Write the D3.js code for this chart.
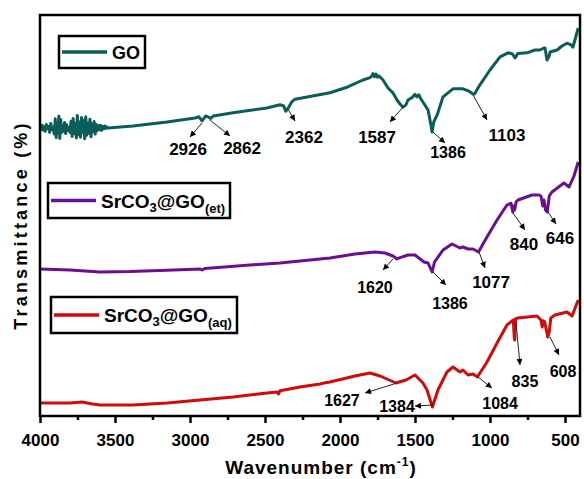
<!DOCTYPE html>
<html>
<head>
<meta charset="utf-8">
<script src="https://cdn.jsdelivr.net/npm/d3@7"></script>
<style>
body { margin: 0; background: #fff; }
text { font-family: "Liberation Sans", Arial, sans-serif; font-weight: bold; }
</style>
</head>
<body>
<script>
// x ticks (cm-1)
var waveTicks = [4000, 3500, 3000, 2500, 2000, 1500, 1000, 500];
var minorTicks = [3750, 3250, 2750, 2250, 1750, 1250, 750];

// spectra: [wavenumber, transmittance (a.u., offset)]
var goData = [
  [4000,72],[3995,72.5],[3990,71.6],[3985,72.7],[3980,71.5],[3972,72.3],[3965,71.2],[3958,72.9],[3950,71.8],
  [3943,72.4],[3935,70.9],[3928,73.1],[3920,71.6],[3912,72.2],[3905,70.5],[3898,74.3],[3892,69.6],[3886,73],
  [3880,70.8],[3874,75],[3868,69.4],[3862,74.1],[3856,70.9],[3850,72.6],[3843,71.2],[3836,73.4],[3829,70.6],
  [3822,72.8],[3815,71.4],[3808,72.1],[3800,70.9],[3793,73.7],[3786,69.9],[3779,74.4],[3772,70.6],[3765,73.1],
  [3758,69.5],[3751,75.1],[3744,70.3],[3737,73.5],[3730,69.7],[3723,74.6],[3716,70.9],[3709,73.9],[3702,69.3],
  [3695,74.8],[3688,70.2],[3681,73.2],[3674,70.7],[3667,74.2],[3660,69.8],[3653,73],[3646,71.1],[3639,73.6],
  [3632,70.5],[3625,72.9],[3618,71.3],[3611,72.6],[3604,71.6],[3597,72.7],[3590,71.4],[3583,72.4],[3576,71.8],
  [3569,72.5],[3562,71.9],[3555,72.3],[3545,72],
  [3380,72.5],[3153,73.5],[2967,74.5],[2940,74.8],[2920,73.8],[2895,75],[2880,74.8],[2862,74.4],
  [2845,75],[2713,75.8],[2487,77],[2400,77.8],[2375,77.5],[2362,76.2],[2345,77],[2320,78.6],[2300,79.2],
  [2067,80.8],[1953,82.2],[1847,84],[1800,84.6],[1790,84.9],[1780,85.6],[1770,84.8],[1760,85.5],[1750,84.7],
  [1740,85],[1713,84],[1680,82],[1647,80.8],[1620,79],[1600,78],[1580,77.2],[1560,77.8],[1547,79],[1520,79.6],
  [1500,80.4],[1487,79.8],[1475,80.3],[1460,79.2],[1447,78.5],[1413,76.5],[1395,73],[1386,71],[1375,73.5],
  [1353,75.2],[1313,79.8],[1247,81.8],[1180,81.8],[1140,81.2],[1113,80.5],[1103,80.5],[1080,82],[1067,82.8],
  [1000,86.5],[933,89.8],[880,90.8],[850,90.5],[833,89.5],[815,90.6],[753,90.8],[700,91.5],[667,91.5],
  [640,92],[633,92],[620,89],[605,90],[600,91],[553,91.5],[520,92.5],[487,93.2],[460,92.8],[447,92.2],
  [430,94.5],[412,97]
];

var etData = [
  [4000,36.75],[3800,36.5],[3600,36],[3400,36.1],[3200,36.4],[2933,36.75],[2920,36.5],[2900,36.9],
  [2600,37.75],[2400,38.25],[2267,38.75],[2067,39.5],[1900,40.5],[1767,41],[1700,40.75],[1647,40],
  [1620,39.25],[1600,39.6],[1547,40.25],[1500,40.25],[1440,38.5],[1413,38.25],[1386,36],[1370,38.5],
  [1313,41.5],[1253,43],[1200,42],[1180,42.25],[1147,41.75],[1113,41.75],[1077,41],[1020,44.75],
  [953,49],[887,52.75],[860,53.2],[848,51],[842,52.5],[836,51.5],[826,53.5],[813,54],[720,55.25],
  [673,55.25],[660,55],[648,52.5],[640,54],[630,51.5],[618,51],[605,55],[587,56],[507,58.25],
  [473,57.25],[440,60],[412,63.5]
];

var aqData = [
  [4000,3.25],[3800,3.25],[3720,3.5],[3650,3],[3600,2.75],[3380,2.75],[3153,3.25],[2933,4],[2713,4.75],
  [2487,5.75],[2420,6],[2410,5.5],[2400,6.3],[2267,7.25],[2133,8],[2100,8.3],[2067,8.5],[1900,10],
  [1800,10.75],[1733,10],[1627,8.25],[1560,9],[1500,10.25],[1447,8.25],[1420,6.5],[1384,2.25],[1347,6.5],
  [1287,11],[1247,12.25],[1200,11],[1180,11.5],[1147,10.25],[1113,10.5],[1084,9.75],[1020,13.5],
  [953,18.25],[887,22.75],[845,24],[838,19.5],[835,19],[830,24.3],[813,24.5],[687,25],[660,24],
  [652,22.25],[645,23.8],[635,23.5],[615,19.75],[605,21],[595,24.5],[567,25.25],[487,26],[453,25],
  [412,29]
];

// peak labels: [label, tailW, tailT, headW, headT, textW, textT, fontSize]
var goPeaks = [
  ['2926',2920,73.25,3000,69.75,3013,65.25,17],
  ['2862',2867,74,2733,70,2653,65.5,17],
  ['2362',2347,76.75,2300,73.75,2240,68.25,17],
  ['1587',1580,77.25,1667,73.5,1753,68.25,17],
  ['1386',1380,71,1300,68.25,1280,64.5,16],
  ['1103',1113,80.25,1020,74,887,68.75,17]
];
var etPeaks = [
  ['1620',1647,39.25,1713,36.5,1767,30.75,16],
  ['1386',1380,36,1293,32.75,1267,26.75,16],
  ['1077',1073,41,1033,37,993,32,17],
  ['840',847,50.75,767,46.5,773,41.5,17],
  ['646',613,51,560,48,533,43,17]
];
var aqPeaks = [
  ['1627',1620,8.25,1833,5.75,1987,2.5,16],
  ['1384',1380,2.75,1500,2.5,1620,1,16],
  ['1084',1080,9.75,987,7,933,1.75,16],
  ['835',827,23.5,800,12.75,767,7.25,16],
  ['608',600,19.75,540,15.25,513,9.75,16]
];

var colors = {go:'#0b5d58', et:'#6c0e92', aq:'#d10a0a'};

var svg = d3.select('body').append('svg')
  .attr('width', 584)
  .attr('height', 479);

var x = d3.scaleLinear().domain([4000, 400]).range([40, 580]);
var y = d3.scaleLinear().domain([0, 100.25]).range([416, 15]);

svg.append('defs').append('clipPath').attr('id', 'clip')
  .append('rect').attr('x', 40).attr('y', 15).attr('width', 540).attr('height', 401);

svg.select('defs').append('marker')
  .attr('id', 'arrow')
  .attr('viewBox', '0 0 10 10')
  .attr('refX', 10).attr('refY', 5)
  .attr('markerWidth', 7).attr('markerHeight', 6)
  .attr('markerUnits', 'userSpaceOnUse')
  .attr('orient', 'auto')
  .append('path').attr('d', 'M0,0L10,5L0,10z').attr('fill', '#000');

var line = d3.line()
  .x(function(d) { return x(d[0]); })
  .y(function(d) { return y(d[1]); });

var plot = svg.append('g').attr('clip-path', 'url(#clip)');
[[goData, colors.go], [etData, colors.et], [aqData, colors.aq]].forEach(function(s) {
  plot.append('path')
    .datum(s[0])
    .attr('d', line)
    .attr('fill', 'none')
    .attr('stroke', s[1])
    .attr('stroke-width', 3)
    .attr('stroke-linejoin', 'round');
});

// arrows + labels
var ann = svg.append('g');
goPeaks.concat(etPeaks, aqPeaks).forEach(function(p) {
  ann.append('line')
    .attr('x1', x(p[1])).attr('y1', y(p[2]))
    .attr('x2', x(p[3])).attr('y2', y(p[4]))
    .attr('stroke', '#222').attr('stroke-width', 1)
    .attr('marker-end', 'url(#arrow)');
  ann.append('text')
    .attr('x', x(p[5])).attr('y', y(p[6]))
    .attr('text-anchor', 'middle')
    .style('font-size', p[7] + 'px')
    .text(p[0]);
});

// axes
var xAxis = d3.axisBottom(x).tickValues(waveTicks).tickFormat(d3.format('d'))
  .tickSize(7).tickSizeOuter(0).tickPadding(11);
var gx = svg.append('g').attr('transform', 'translate(0,416)').call(xAxis);
gx.select('.domain').remove();
gx.selectAll('.tick line').attr('stroke-width', 2.5);
gx.selectAll('.tick text').style('font-size', '17px').style('font-family', '"Liberation Sans", Arial, sans-serif').style('font-weight', 'bold').attr('fill', '#000');

var gm = svg.append('g').attr('transform', 'translate(0,416)')
  .call(d3.axisBottom(x).tickValues(minorTicks).tickSize(4).tickFormat(''));
gm.select('.domain').remove();
gm.selectAll('.tick line').attr('stroke-width', 2.5);

// frame
svg.append('rect')
  .attr('x', 40).attr('y', 15).attr('width', 540).attr('height', 401)
  .attr('fill', 'none').attr('stroke', '#000').attr('stroke-width', 2.5);

// axis titles
var xt = svg.append('text')
  .attr('x', 321).attr('y', 474)
  .attr('text-anchor', 'middle')
  .style('font-size', '19px')
  .style('letter-spacing', '1px');
xt.append('tspan').text('Wavenumber (cm');
xt.append('tspan').attr('dy', -8).style('font-size', '12px').text('-1');
xt.append('tspan').attr('dy', 8).text(')');

svg.append('text')
  .attr('transform', 'translate(27,225) rotate(-90)')
  .attr('text-anchor', 'middle')
  .style('font-size', '18px')
  .style('letter-spacing', '3.2px')
  .text('Transmittance (%)');

// legends
function legend(bx, by, bw, bh, color, parts) {
  var g = svg.append('g');
  g.append('rect').attr('x', bx).attr('y', by).attr('width', bw).attr('height', bh)
    .attr('fill', '#fff').attr('stroke', '#000').attr('stroke-width', 2.5);
  g.append('line').attr('x1', bx + 3).attr('x2', bx + 48)
    .attr('y1', by + bh / 2).attr('y2', by + bh / 2)
    .attr('stroke', color).attr('stroke-width', 3.5);
  var t = g.append('text').attr('x', bx + 53).attr('y', by + bh / 2 + 7);
  parts.forEach(function(p) {
    t.append('tspan').attr('dy', p[1]).style('font-size', p[2] + 'px').text(p[0]);
  });
}
legend(59, 36, 86, 32, colors.go, [['GO', 0, 18]]);
legend(48, 183, 182, 35, colors.et, [['SrCO', 0, 19], ['3', 4, 13], ['@GO', -4, 19], ['(et)', 5, 13]]);
legend(51, 297, 186, 36, colors.aq, [['SrCO', 0, 19], ['3', 4, 13], ['@GO', -4, 19], ['(aq)', 5, 13]]);
</script>
</body>
</html>
